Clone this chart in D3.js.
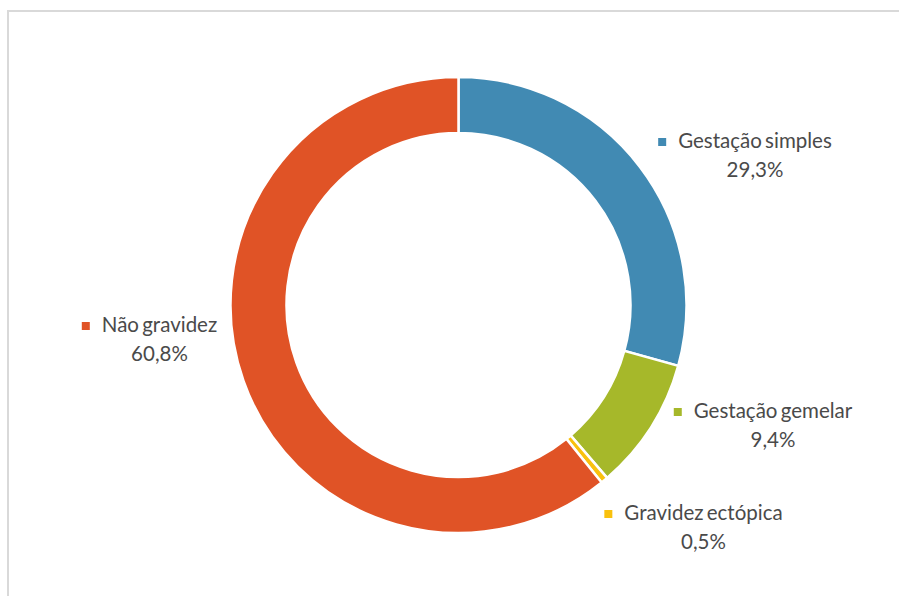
<!DOCTYPE html>
<html>
<head>
<meta charset="utf-8">
<script src="https://cdn.jsdelivr.net/npm/d3@7"></script>
<style>
  html, body { margin: 0; padding: 0; background: #fff; }
  svg { display: block; }
  text { font-family: Lato, "Open Sans", sans-serif; fill: #4a4a4a; }
</style>
</head>
<body>
<svg id="chart" width="899" height="596"></svg>
<script>
// Resultado da gestação (%)
const categories = ["Gestação simples", "Gestação gemelar", "Gravidez ectópica", "Não gravidez"];
const values = [29.3, 9.4, 0.5, 60.8];
const valueLabels = ["29,3%", "9,4%", "0,5%", "60,8%"];
const colors = ["#418AB3", "#A6B82A", "#F9C10E", "#E05326"];

const W = 899, H = 596;
const cx = 458.5, cy = 305;
const outerR = 228, innerR = 172;

// Where each two-line label sits (centre of the text block, first baseline)
const labelAnchors = {
  "Gestação simples": [755, 148],
  "Gestação gemelar": [773, 418],
  "Gravidez ectópica": [703.5, 520],
  "Não gravidez": [159.5, 332]
};

const svg = d3.select("#chart");

// Chart area frame
svg.append("rect")
  .attr("x", 8).attr("y", 11)
  .attr("width", W + 10).attr("height", H + 10)
  .attr("fill", "#fff")
  .attr("stroke", "#d9d9d9")
  .attr("stroke-width", 2);

const data = categories.map((c, i) => ({ name: c, value: values[i], label: valueLabels[i], color: colors[i] }));

const pie = d3.pie().value(d => d.value).sort(null);
const arc = d3.arc().innerRadius(innerR).outerRadius(outerR);

const g = svg.append("g").attr("transform", `translate(${cx},${cy})`);
g.selectAll("path")
  .data(pie(data))
  .join("path")
  .attr("d", arc)
  .attr("fill", d => d.data.color)
  .attr("stroke", "#fff")
  .attr("stroke-width", 2.5)
  .attr("stroke-linejoin", "miter");

// Labels: category name with a colour key, percentage below
const fontSize = 20.5;
const labels = svg.append("g");
data.forEach(d => {
  const [x, y] = labelAnchors[d.name];
  const lg = labels.append("g");
  const t = lg.append("text")
    .attr("x", x).attr("y", y)
    .attr("text-anchor", "middle")
    .style("font-size", fontSize + "px")
    .style("word-spacing", "-2px")
    .text(d.name);
  const w = t.node().getComputedTextLength();
  lg.append("rect")
    .attr("x", x - w / 2 - 20).attr("y", y - 10)
    .attr("width", 8).attr("height", 8)
    .attr("fill", d.color);
  lg.append("text")
    .attr("x", x).attr("y", y + 28.5)
    .attr("text-anchor", "middle")
    .style("font-size", fontSize + "px")
    .text(d.label);
});
</script>
</body>
</html>
